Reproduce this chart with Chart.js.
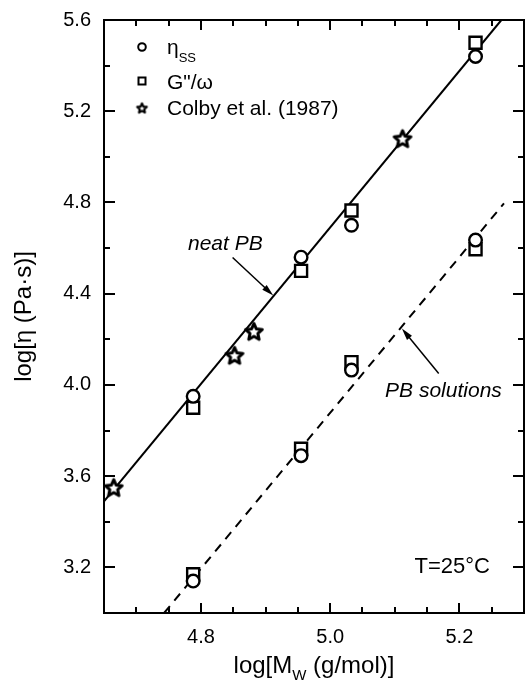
<!DOCTYPE html>
<html>
<head>
<meta charset="utf-8">
<script src="https://cdn.jsdelivr.net/npm/chart.js"></script>
<style>
  html, body { margin: 0; padding: 0; background: #fff; }
  #wrap { width: 525px; height: 682px; }
</style>
</head>
<body>
<div id="wrap"><canvas id="viscChart" width="525" height="682"></canvas></div>
<script>
// log Mw of the four samples
const sampleLogM = [4.788, 4.955, 5.033, 5.225];
// neat PB
const neatEtaSS = [3.95, 4.56, 4.70, 5.44];
const neatGw = [3.90, 4.50, 4.765, 5.50];
// PB solutions
const solEtaSS = [3.14, 3.69, 4.065, 4.635];
const solGw = [3.17, 3.72, 4.10, 4.595];
// Colby et al. (1987)
const colbyLogM = [4.665, 4.852, 4.882, 5.112];
const colbyEta = [3.55, 4.13, 4.235, 5.08];
// fit lines, end points
const neatFitX = [4.65, 5.265];
const neatFitY = [3.49, 5.6];
const solFitX = [4.743, 5.269];
const solFitY = [3.0, 4.796];

const xTicksMajor = [4.8, 5.0, 5.2];
const yTicksMajor = [3.2, 3.6, 4.0, 4.4, 4.8, 5.2, 5.6];

// annotations (data units)
const noteText = ['neat PB', 'PB solutions'];
const noteX = [4.780, 5.085];
const noteY = [4.590, 3.949];
const arrowFrom = [[4.849, 4.559], [5.168, 4.050]];
const arrowTo = [[4.912, 4.392], [5.111, 4.247]];

const FONT = '"Liberation Sans", Arial, Helvetica, sans-serif';

const pts = (xs, ys) => xs.map((x, i) => ({ x: x, y: ys[i] }));
const isMajor = (v, list) => list.some(m => Math.abs(m - v) < 1e-6);

function makeStar(outer, inner, lw) {
  const size = Math.ceil(2 * outer + 2 * lw + 2);
  const c = document.createElement('canvas');
  c.width = size; c.height = size;
  const g = c.getContext('2d');
  g.translate(size / 2, size / 2 + outer * 0.1);
  g.beginPath();
  for (let i = 0; i < 10; i++) {
    const r = i % 2 ? inner : outer;
    const a = -Math.PI / 2 + i * Math.PI / 5;
    g.lineTo(r * Math.cos(a), r * Math.sin(a));
  }
  g.closePath();
  g.fillStyle = '#fff';
  g.fill();
  g.lineWidth = lw;
  g.lineJoin = 'round';
  g.strokeStyle = '#000';
  g.stroke();
  return c;
}

const bigStar = makeStar(8.8, 4.1, 3);
const smallStar = makeStar(5, 2.4, 2.2);

function arrow(ctx, x1, y1, x2, y2) {
  const ang = Math.atan2(y2 - y1, x2 - x1);
  const hl = 12, hw = 3.2;
  const c = Math.cos(ang), s = Math.sin(ang);
  ctx.beginPath();
  ctx.moveTo(x1, y1);
  ctx.lineTo(x2 - hl * 0.7 * c, y2 - hl * 0.7 * s);
  ctx.stroke();
  ctx.beginPath();
  ctx.moveTo(x2, y2);
  ctx.lineTo(x2 - hl * c + hw * s, y2 - hl * s - hw * c);
  ctx.lineTo(x2 - hl * c - hw * s, y2 - hl * s + hw * c);
  ctx.closePath();
  ctx.fill();
}

// text with a subscript part: main, sub, rest
function subText(ctx, x, y, main, sub, rest, size, subSize, drop, align) {
  ctx.font = size + 'px ' + FONT;
  const w1 = ctx.measureText(main).width;
  const w3 = ctx.measureText(rest).width;
  ctx.font = subSize + 'px ' + FONT;
  const w2 = ctx.measureText(sub).width;
  let x0 = x;
  if (align === 'center') x0 = x - (w1 + w2 + w3) / 2;
  ctx.textAlign = 'left';
  ctx.textBaseline = 'alphabetic';
  ctx.font = size + 'px ' + FONT;
  ctx.fillText(main, x0, y);
  ctx.font = subSize + 'px ' + FONT;
  ctx.fillText(sub, x0 + w1, y + drop);
  ctx.font = size + 'px ' + FONT;
  ctx.fillText(rest, x0 + w1 + w2, y);
}

const framePlugin = {
  id: 'frame',
  beforeDatasetsDraw(chart) {
    const { ctx, chartArea: a, scales: { x, y } } = chart;
    ctx.save();
    ctx.strokeStyle = '#000';
    ctx.lineWidth = 2;
    ctx.strokeRect(a.left, a.top, a.right - a.left, a.bottom - a.top);
    ctx.beginPath();
    x.ticks.forEach(t => {
      const px = Math.round(x.getPixelForValue(t.value));
      const len = isMajor(t.value, xTicksMajor) ? 10 : 6;
      ctx.moveTo(px, a.bottom); ctx.lineTo(px, a.bottom - len);
      ctx.moveTo(px, a.top); ctx.lineTo(px, a.top + len);
    });
    y.ticks.forEach(t => {
      const py = Math.round(y.getPixelForValue(t.value));
      const len = isMajor(t.value, yTicksMajor) ? 11 : 6;
      ctx.moveTo(a.left, py); ctx.lineTo(a.left + len, py);
      ctx.moveTo(a.right, py); ctx.lineTo(a.right - len, py);
    });
    ctx.stroke();
    ctx.restore();
  },
  afterDraw(chart) {
    const { ctx, chartArea: a, scales: { x, y } } = chart;
    ctx.save();
    ctx.fillStyle = '#000';
    ctx.strokeStyle = '#000';

    // axis titles
    subText(ctx, (a.left + a.right) / 2, 673, 'log[M', 'W', ' (g/mol)]', 24, 15, 7, 'center');
    ctx.save();
    ctx.translate(31, (a.top + a.bottom) / 2);
    ctx.rotate(-Math.PI / 2);
    ctx.font = '24px ' + FONT;
    ctx.textAlign = 'center';
    ctx.textBaseline = 'alphabetic';
    ctx.fillText('log[\u03b7 (Pa\u00b7s)]', 0, 0);
    ctx.restore();

    // legend
    const lx = a.left + 38, tx = a.left + 63;
    ctx.lineWidth = 2;
    ctx.beginPath();
    ctx.arc(lx, a.top + 27, 3.8, 0, Math.PI * 2);
    ctx.stroke();
    ctx.strokeRect(lx - 3.5, a.top + 61 - 3.5, 7, 7);
    ctx.drawImage(smallStar, lx - smallStar.width / 2, a.top + 88 - smallStar.height / 2);
    subText(ctx, tx, a.top + 34, '\u03b7', 'SS', '', 21, 13, 8, 'left');
    subText(ctx, tx, a.top + 69, 'G"/\u03c9', '', '', 21, 13, 0, 'left');
    subText(ctx, tx, a.top + 95, 'Colby et al. (1987)', '', '', 21, 13, 0, 'left');

    // notes and arrows
    ctx.font = 'italic 21px ' + FONT;
    ctx.textAlign = 'left';
    ctx.textBaseline = 'alphabetic';
    noteText.forEach((t, i) => {
      ctx.fillText(t, x.getPixelForValue(noteX[i]), y.getPixelForValue(noteY[i]));
    });
    ctx.lineWidth = 1.5;
    arrowFrom.forEach((f, i) => {
      arrow(ctx, x.getPixelForValue(f[0]), y.getPixelForValue(f[1]),
        x.getPixelForValue(arrowTo[i][0]), y.getPixelForValue(arrowTo[i][1]));
    });
    ctx.font = '22px ' + FONT;
    ctx.textAlign = 'right';
    ctx.fillText('T=25\u00b0C', a.right - 34, a.bottom - 40);
    ctx.restore();
  }
};

const ctx = document.getElementById('viscChart').getContext('2d');
const viscChart = new Chart(ctx, {
  type: 'scatter',
  data: {
    datasets: [
      {
        label: 'neat PB fit',
        data: pts(neatFitX, neatFitY),
        showLine: true,
        borderColor: '#000',
        borderWidth: 2,
        pointRadius: 0,
        order: 10
      },
      {
        label: 'PB solutions fit',
        data: pts(solFitX, solFitY),
        showLine: true,
        borderColor: '#000',
        borderWidth: 2,
        borderDash: [9, 7],
        pointRadius: 0,
        order: 10
      },
      {
        label: 'G"/\u03c9 neat',
        data: pts(sampleLogM, neatGw),
        pointStyle: 'rect',
        pointRadius: 8.5,
        borderColor: '#000',
        backgroundColor: '#fff',
        borderWidth: 2.4,
        order: 3
      },
      {
        label: 'G"/\u03c9 solutions',
        data: pts(sampleLogM, solGw),
        pointStyle: 'rect',
        pointRadius: 8.5,
        borderColor: '#000',
        backgroundColor: '#fff',
        borderWidth: 2.4,
        order: 3
      },
      {
        label: '\u03b7ss neat',
        data: pts(sampleLogM, neatEtaSS),
        pointStyle: 'circle',
        pointRadius: 6.3,
        borderColor: '#000',
        backgroundColor: '#fff',
        borderWidth: 2.4,
        order: 2
      },
      {
        label: '\u03b7ss solutions',
        data: pts(sampleLogM, solEtaSS),
        pointStyle: 'circle',
        pointRadius: 6.3,
        borderColor: '#000',
        backgroundColor: '#fff',
        borderWidth: 2.4,
        order: 2
      },
      {
        label: 'Colby et al. (1987)',
        data: pts(colbyLogM, colbyEta),
        pointStyle: bigStar,
        pointRadius: 9,
        order: 1
      }
    ]
  },
  options: {
    responsive: false,
    animation: false,
    devicePixelRatio: 1,
    events: [],
    layout: { autoPadding: false, padding: { top: 20, right: 1, left: 0, bottom: 0 } },
    plugins: {
      legend: { display: false },
      tooltip: { enabled: false }
    },
    scales: {
      x: {
        type: 'linear',
        min: 4.65,
        max: 5.3,
        grid: { display: false, drawTicks: false },
        border: { display: false },
        ticks: {
          stepSize: 0.05,
          padding: 12,
          color: '#000',
          font: { family: FONT, size: 20 },
          maxRotation: 0,
          autoSkip: false,
          callback: v => isMajor(v, xTicksMajor) ? v.toFixed(1) : ''
        },
        afterFit: s => { s.height = 69; s.paddingLeft = 0; s.paddingRight = 0; }
      },
      y: {
        type: 'linear',
        min: 3.0,
        max: 5.6,
        grid: { display: false, drawTicks: false },
        border: { display: false },
        ticks: {
          stepSize: 0.2,
          padding: 13,
          color: '#000',
          font: { family: FONT, size: 20 },
          autoSkip: false,
          callback: v => isMajor(v, yTicksMajor) ? v.toFixed(1) : ''
        },
        afterFit: s => { s.width = 104; s.paddingTop = 0; s.paddingBottom = 0; }
      }
    }
  },
  plugins: [framePlugin]
});
</script>
</body>
</html>
